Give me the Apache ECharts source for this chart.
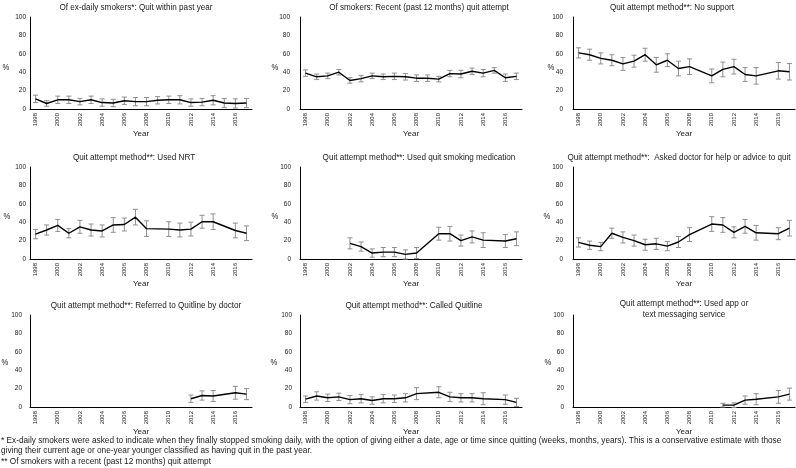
<!DOCTYPE html>
<html><head><meta charset="utf-8">
<script src="https://cdn.jsdelivr.net/npm/echarts@6/dist/echarts.min.js"></script>
<style>html,body{margin:0;padding:0;background:#fff}#c{width:796px;height:468px}</style>
</head><body><div id="c"></div>
<script>
const years = ['1998','1999','2000','2001','2002','2003','2004','2005','2006','2007','2008','2009','2010','2011','2012','2013','2014','2015','2016','2017'];

const panelTitles = [
  'Of ex-daily smokers*: Quit within past year',
  'Of smokers: Recent (past 12 months) quit attempt',
  'Quit attempt method**: No support',
  'Quit attempt method**: Used NRT',
  'Quit attempt method**: Used quit smoking medication',
  'Quit attempt method**:  Asked doctor for help or advice to quit',
  'Quit attempt method**: Referred to Quitline by doctor',
  'Quit attempt method**: Called Quitline',
  'Quit attempt method**: Used app or\ntext messaging service'
];

const exQuitVal = [11,6,10,10,8,10,7,6.5,9,8,8,9.5,10,10,7,7.5,9.5,6.5,6,6.5];
const exQuitErr = [4,3,4,4,3.5,4,4,4,4,4.5,4.5,4,4,4.5,4,4,5,5,5,5];

const attemptVal = [39,35,36,40,31,33,36,35,35.5,35,33.5,33.5,32.5,38.5,38,41,39,42,34,35.5];
const attemptErr = [3.5,3,3,3,3,3.5,3,3,3.5,3.5,3.5,3.5,3,3.5,4,3.5,4,3,4,3.5];

const noSupportVal = [61,59,55,53,49,52,59,48,53,44,46,null,36,43,46,37.5,36,null,41.5,40.5];
const noSupportErr = [5.5,6,6,6,7,6.5,7,8,7,8,8.5,null,7.5,8,8,7.5,9,null,9,9];

const nrtVal = [27,31.5,36.5,28,35,31.5,30.5,37,37.5,45.5,33,null,32.5,31.5,32.5,40.5,40.5,null,31,28];
const nrtErr = [5,5.5,6.5,5,7,6.5,6.5,8,7,8.5,8.5,null,8,7.5,7.5,7,8.5,null,8,8];

const medVal = [null,null,null,null,17,13.5,6.5,7.5,7.5,5,6.5,null,27.5,27.5,20,24,20.5,null,19.5,22];
const medErr = [null,null,null,null,6,5,4.5,5,5,5,6,null,7,8,6,6.5,8,null,7,7.5];

const doctorVal = [18,15,13.5,28,23.5,20,15.5,16.5,14,18.5,26.5,null,38,37,29,35.5,28.5,null,27.5,33.5];
const doctorErr = [5,4.5,4.5,5.5,6,6,6,6,5,6,7.5,null,8,8,6,7.5,8,null,6.5,8.5];

const referredVal = [null,null,null,null,null,null,null,null,null,null,null,null,null,null,9,12.5,12,null,15.5,14];
const referredErr = [null,null,null,null,null,null,null,null,null,null,null,null,null,null,4,5,6,null,7,6];

const calledVal = [8.5,12,10,11,8,9,7,9,9,10,14.5,null,16,11,10,10,9,null,8,5];
const calledErr = [3.5,4.5,4,4,4.5,4.5,4,4.5,4,4.5,6.5,null,6,5,4.5,4.5,6.5,null,5,4.5];

const appVal = [null,null,null,null,null,null,null,null,null,null,null,null,null,2,2,7.5,8.5,null,11,14];
const appErr = [null,null,null,null,null,null,null,null,null,null,null,null,null,2,2.5,4.5,6,null,7,6.5];

const yTicks = [0,20,40,60,80,100];

const footnotes = [
  '* Ex-daily smokers were asked to indicate when they finally stopped smoking daily, with the option of giving either a date, age or time since quitting (weeks, months, years). This is a conservative estimate with those',
  'giving their current age or one-year younger classified as having quit in the past year.',
  '** Of smokers with a recent (past 12 months) quit attempt'
];

const seriesVals = [exQuitVal, attemptVal, noSupportVal, nrtVal, medVal, doctorVal, referredVal, calledVal, appVal];
const seriesErrs = [exQuitErr, attemptErr, noSupportErr, nrtErr, medErr, doctorErr, referredErr, calledErr, appErr];

const FONT = "'Liberation Sans',Arial,sans-serif";
const NARROW = 0.855;
const colLeft = [30, 300, 573];
const rowTop = [17, 167, 315];
const plotW = 222, plotH = 92;
const titlePos = [[136,7],[419,7],[672,7],[134,157],[419,157],[679,157],[146,305],[414,305],[684,308.5]];
const pctPos = [[6,68],[275,68],[551,68],[7,217],[275,217],[547,217],[5,363],[274,363],[548,363]];
const yLabMargin = [4,10,10,4,9,10,8,8,9];

const grids = [], xAxes = [], yAxes = [], series = [], graphics = [];

function renderErr(params, api) {
  const x = api.value(0), lo = api.value(1), hi = api.value(2);
  const p1 = api.coord([x, lo]), p2 = api.coord([x, hi]);
  const w = 2.5;
  const style = { stroke: '#8f8f8f', lineWidth: 1 };
  return { type: 'group', children: [
    { type: 'line', shape: { x1: p1[0], y1: p1[1], x2: p2[0], y2: p2[1] }, style },
    { type: 'line', shape: { x1: p1[0]-w, y1: p1[1], x2: p1[0]+w, y2: p1[1] }, style },
    { type: 'line', shape: { x1: p2[0]-w, y1: p2[1], x2: p2[0]+w, y2: p2[1] }, style }
  ]};
}

for (let i = 0; i < 9; i++) {
  const r = Math.floor(i / 3), c = i % 3;
  grids.push({ left: colLeft[c], top: rowTop[r], width: plotW, height: plotH, containLabel: false });
  xAxes.push({
    type: 'category', gridIndex: i, data: years, boundaryGap: true,
    axisLine: { lineStyle: { color: '#000', width: 1 } },
    axisTick: { show: false },
    axisLabel: { interval: 1, rotate: 90, fontSize: 6, margin: 4, color: '#222', fontFamily: FONT },
    name: 'Year', nameLocation: 'middle', nameGap: 21,
    nameTextStyle: { fontSize: 8, color: '#222', fontFamily: FONT }
  });
  yAxes.push({
    type: 'value', gridIndex: i, min: 0, max: 100, interval: 20,
    splitLine: { show: false },
    axisLine: { show: true, lineStyle: { color: '#000', width: 1 } },
    axisTick: { show: false },
    axisLabel: { fontSize: 6.5, margin: yLabMargin[i], color: '#222', fontFamily: FONT,
      formatter: v => yTicks.includes(v) ? String(v) : '' }
  });
  const vals = seriesVals[i], errs = seriesErrs[i];
  const errData = [];
  vals.forEach((v, k) => { if (v != null && errs[k] != null) errData.push([k, v - errs[k], v + errs[k]]); });
  series.push({
    type: 'custom', xAxisIndex: i, yAxisIndex: i, renderItem: renderErr,
    data: errData, encode: { x: 0, y: [1, 2] }, z: 2, silent: true
  });
  series.push({
    type: 'line', xAxisIndex: i, yAxisIndex: i, data: vals, connectNulls: true,
    showSymbol: false, symbol: 'none', lineStyle: { color: '#000', width: 1.4 }, z: 3, silent: true
  });
  graphics.push({ type: 'text', x: titlePos[i][0], y: titlePos[i][1], scaleX: NARROW,
    style: { text: panelTitles[i], textAlign: 'center', textVerticalAlign: 'middle',
      font: "9.5px " + FONT, fill: '#222', lineHeight: 11 } });
  graphics.push({ type: 'text', x: pctPos[i][0], y: pctPos[i][1], scaleX: NARROW,
    style: { text: '%', textAlign: 'center', textVerticalAlign: 'middle', font: "9px " + FONT, fill: '#222' } });
}
footnotes.forEach((t, k) => {
  graphics.push({ type: 'text', x: 1, y: 440 + k * 10.5, scaleX: 0.87,
    style: { text: t, textAlign: 'left', textVerticalAlign: 'middle', font: "9.5px " + FONT, fill: '#222' } });
});

const chart = echarts.init(document.getElementById('c'), null, { renderer: 'canvas' });
chart.setOption({
  animation: false,
  backgroundColor: '#fff',
  grid: grids, xAxis: xAxes, yAxis: yAxes, series: series, graphic: graphics
});
</script></body></html>
